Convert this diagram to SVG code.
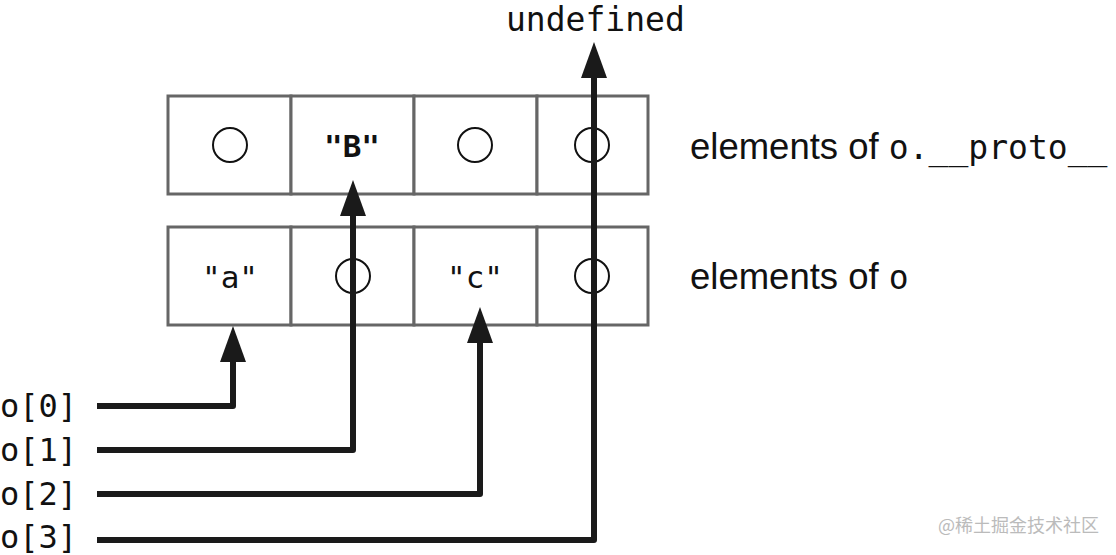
<svg xmlns="http://www.w3.org/2000/svg" width="1116" height="555" viewBox="0 0 1116 555">
<style>
.cell{fill:#fff;stroke:#666;stroke-width:3}
.slot{fill:none;stroke:#111;stroke-width:2}
.mono{font-family:"DejaVu Sans Mono","Liberation Mono",monospace;fill:#111}
.val{font-family:"DejaVu Sans Mono","Liberation Mono",monospace;font-size:31px;fill:#111;text-anchor:middle}
.sans{font-family:"Liberation Sans",Arial,sans-serif;font-size:36.5px;fill:#111}
.conn{fill:none;stroke:#1a1a1a;stroke-width:6;stroke-linejoin:round}
</style>
<defs>
<marker id="ah" viewBox="0 0 36 26" refX="0" refY="13" markerWidth="36" markerHeight="26" markerUnits="userSpaceOnUse" orient="auto">
<path d="M0,0 L36,13 L0,26 z" fill="#1a1a1a"/>
</marker>
</defs>
<g id="proto-row">
<rect class="cell" x="168" y="96" width="123" height="98"/>
<rect class="cell" x="291" y="96" width="123" height="98"/>
<rect class="cell" x="414" y="96" width="123" height="98"/>
<rect class="cell" x="537" y="96" width="111" height="98"/>
<circle class="slot" cx="230" cy="145" r="17"/>
<text class="val" x="352" y="157" font-weight="bold">"B"</text>
<circle class="slot" cx="475" cy="145" r="17"/>
<circle class="slot" cx="592" cy="145" r="17"/>
</g>
<g id="o-row">
<rect class="cell" x="168" y="227" width="123" height="98"/>
<rect class="cell" x="291" y="227" width="123" height="98"/>
<rect class="cell" x="414" y="227" width="123" height="98"/>
<rect class="cell" x="537" y="227" width="111" height="98"/>
<text class="val" x="230" y="288">"a"</text>
<circle class="slot" cx="353" cy="276" r="17"/>
<text class="val" x="475" y="288">"c"</text>
<circle class="slot" cx="592" cy="276" r="17"/>
</g>
<g id="label-proto"><text class="sans" x="690" y="159">elements of <tspan class="mono" font-size="33">o.__proto__</tspan></text></g>
<g id="label-o"><text class="sans" x="690" y="289">elements of <tspan class="mono" font-size="33">o</tspan></text></g>
<g id="undefined"><text class="mono" x="506" y="31" font-size="33">undefined</text></g>
<g id="o0"><text class="mono" x="0" y="417" font-size="32">o[0]</text></g>
<g id="o1"><text class="mono" x="0" y="461" font-size="32">o[1]</text></g>
<g id="o2"><text class="mono" x="0" y="505" font-size="32">o[2]</text></g>
<g id="o3"><text class="mono" x="0" y="548" font-size="32">o[3]</text></g>
<g id="connectors">
<path class="conn" d="M97,406 H233 V362" marker-end="url(#ah)"/>
<path class="conn" d="M97,450 H353 V216" marker-end="url(#ah)"/>
<path class="conn" d="M97,494 H480 V343" marker-end="url(#ah)"/>
<path class="conn" d="M97,540 H594 V78" marker-end="url(#ah)"/>
</g>
<text x="938" y="532" font-family="'Noto Sans CJK SC',sans-serif" font-size="18" fill="#bbb">@稀土掘金技术社区</text>
</svg>
